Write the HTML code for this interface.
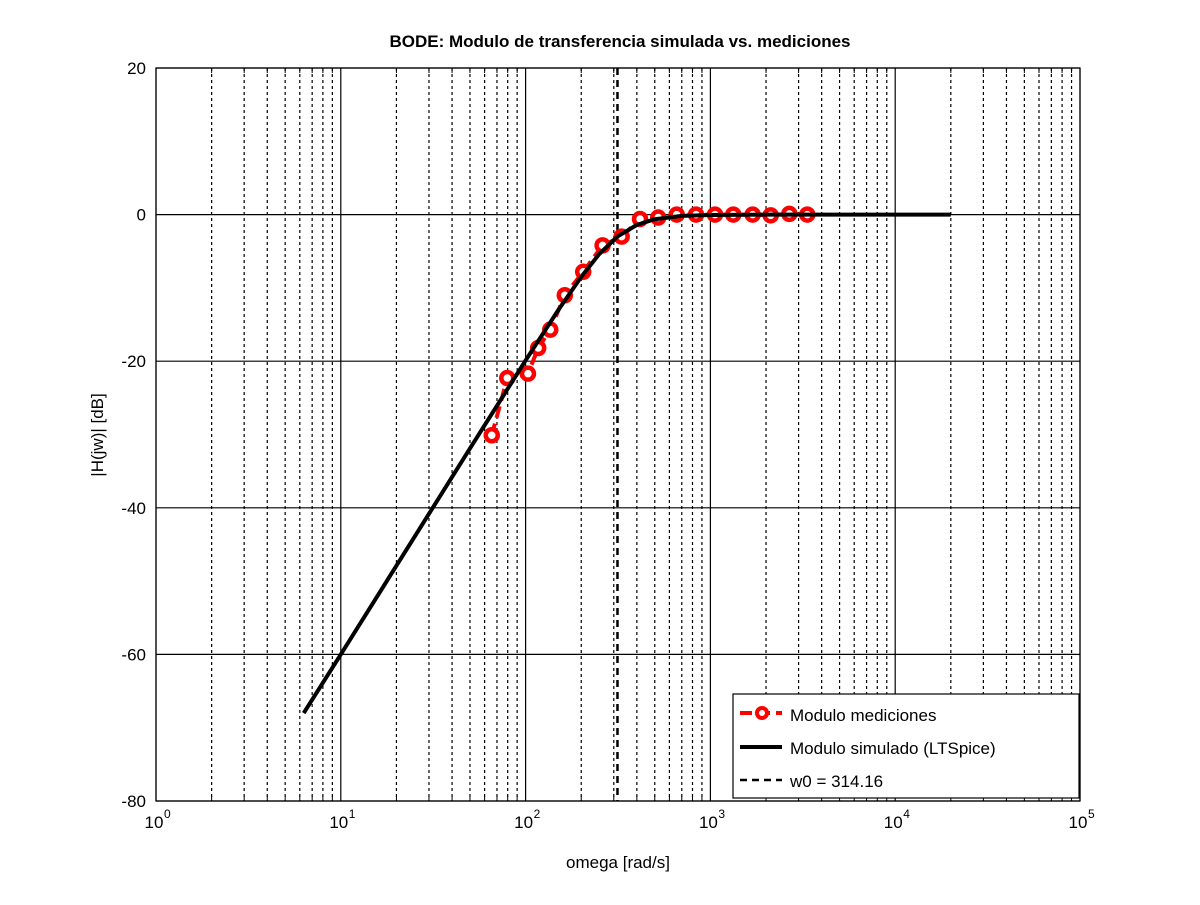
<!DOCTYPE html>
<html><head><meta charset="utf-8"><style>
html,body{margin:0;padding:0;background:#fff;}
svg text{font-family:"Liberation Sans",sans-serif;fill:#000;}
</style></head><body>
<svg id="chart" width="1200" height="900" xmlns="http://www.w3.org/2000/svg">
<rect width="1200" height="900" fill="#fff"/>
<g id="grid"></g>
<g id="series"></g>
<rect x="156" y="68" width="924" height="733" fill="none" stroke="#000" stroke-width="1.2"/>
<g id="ticks"></g>
<text x="620" y="47" font-size="17" font-weight="bold" text-anchor="middle">BODE: Modulo de transferencia simulada vs. mediciones</text>
<text x="618" y="868" font-size="17" text-anchor="middle">omega [rad/s]</text>
<text transform="translate(103,435) rotate(-90)" font-size="17" text-anchor="middle">|H(jw)| [dB]</text>
<g>
<rect x="733" y="694" width="346" height="104" fill="#fff" stroke="#000" stroke-width="1.2"/>
<g>
<line x1="740" y1="713" x2="782" y2="713" stroke="#f00" stroke-width="4" stroke-dasharray="12,6"/>
<circle cx="762" cy="713" r="5" fill="#fff" stroke="#f00" stroke-width="4"/>
<text x="790" y="721" font-size="17">Modulo mediciones</text></g>
<g>
<line x1="740" y1="747" x2="782" y2="747" stroke="#000" stroke-width="4"/>
<text x="790" y="754" font-size="17">Modulo simulado (LTSpice)</text></g>
<g>
<line x1="740" y1="780" x2="782" y2="780" stroke="#000" stroke-width="2.5" stroke-dasharray="7,5"/>
<text x="790" y="787" font-size="17">w0 = 314.16</text></g>
</g>
</svg>
<script>
const measOmega=[65.6,79.6,103,117,136,163,205,261,331,416,522,657,836,1059,1330,1693,2120,2673,3344];
const measDb=[-30.1,-22.3,-21.7,-18.2,-15.7,-11,-7.8,-4.2,-3.0,-0.6,-0.4,0,0,0,0,0,-0.1,0.1,0];
const simOmega=[6.3,10,20,50,100,150,200,250,314,400,500,700,1000,2000,5000,20000];
const simDb=[-68,-60,-47.9,-31.9,-19.9,-13.05,-8.5,-5.4,-3.0,-1.4,-0.63,-0.17,-0.05,0,0,0];
const w0=314.16;
const yTicks=[20,0,-20,-40,-60,-80];
const xDecades=[0,1,2,3,4,5];

const L=156,R=1080,T=68,B=801,NS='http://www.w3.org/2000/svg';
const xs=w=>L+(Math.log10(w)-0)/5*(R-L);
const ys=d=>T+(20-d)/100*(B-T);
function mk(tag,attrs,parent){const e=document.createElementNS(NS,tag);for(const k in attrs)e.setAttribute(k,attrs[k]);parent.appendChild(e);return e;}
const grid=document.getElementById('grid'),ticks=document.getElementById('ticks'),ser=document.getElementById('series');
for(let d=0;d<5;d++){for(let m=2;m<=9;m++){const x=xs(m*Math.pow(10,d));
 const g=mk('line',{x1:x,x2:x,y1:T,y2:B,stroke:'#000','stroke-width':1.2,'stroke-dasharray':'3,3'},grid);
 
 
 mk('line',{x1:x,x2:x,y1:B,y2:B-5,stroke:'#000'},ticks);mk('line',{x1:x,x2:x,y1:T,y2:T+5,stroke:'#000'},ticks);}}
xDecades.forEach(d=>{const x=xs(Math.pow(10,d));
 const g=mk('line',{x1:x,x2:x,y1:T,y2:B,stroke:'#000','stroke-width':1.2},grid);
 
 
 const t=mk('text',{x:x-2,y:B+27,'font-size':17,'text-anchor':'middle'},ticks);t.textContent='10';
 
 
 const s=mk('text',{x:x+8,y:B+17,'font-size':12},ticks);s.textContent=String(d);});
yTicks.forEach(v=>{const y=ys(v);
 const g=mk('line',{x1:L,x2:R,y1:y,y2:y,stroke:'#000','stroke-width':1.2},grid);
 
 
 const t=mk('text',{x:L-10,y:y+6,'font-size':17,'text-anchor':'end'},ticks);t.textContent=String(v);
 
 });
const wl=mk('line',{x1:xs(w0),x2:xs(w0),y1:T,y2:B,stroke:'#000','stroke-width':2.5,'stroke-dasharray':'7,5'},ser);


const mp=mk('polyline',{points:measOmega.map((w,i)=>xs(w)+','+ys(measDb[i])).join(' '),fill:'none',stroke:'#f00','stroke-width':4,'stroke-dasharray':'12,6'},ser);


measOmega.forEach((w,i)=>{const c=mk('circle',{cx:xs(w),cy:ys(measDb[i]),r:6,fill:'#fff',stroke:'#f00','stroke-width':4.5},ser);
 
 });
const sp=mk('polyline',{points:simOmega.map((w,i)=>xs(w)+','+ys(simDb[i])).join(' '),fill:'none',stroke:'#000','stroke-width':4,'stroke-linejoin':'round'},ser);


</script>
</body></html>
